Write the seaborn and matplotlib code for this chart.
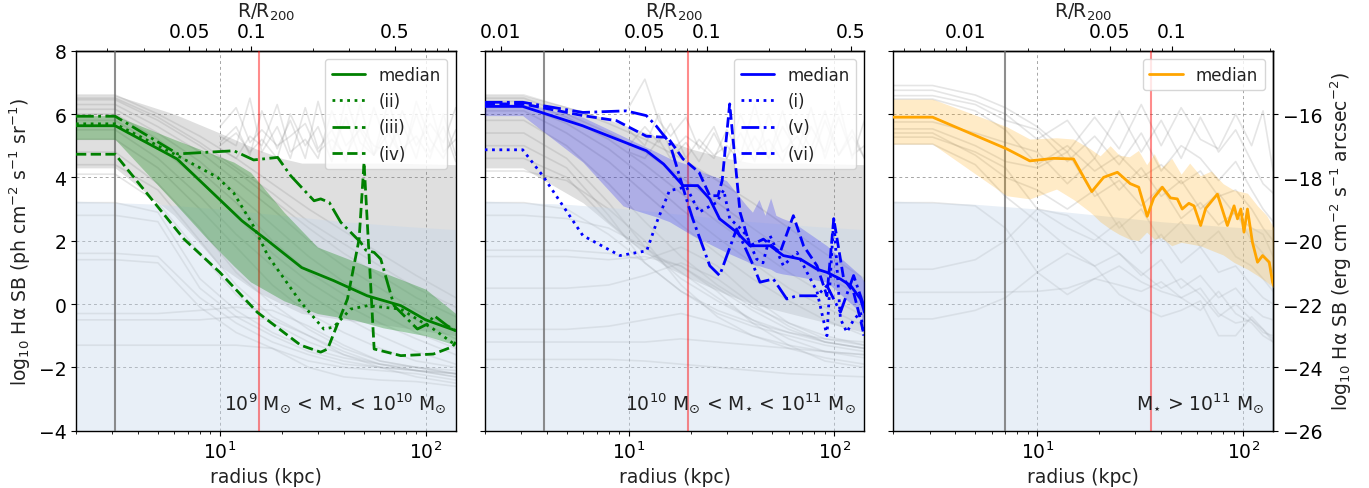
import matplotlib
matplotlib.use("Agg")
import matplotlib.pyplot as plt
import seaborn as sns
from matplotlib.ticker import FuncFormatter, NullFormatter, FixedLocator

# ---------------- data ----------------
# shared radius grids (kpc)
smooth_grid = [2, 3.1, 5, 8, 12, 18, 27, 40, 60, 90, 140]
noise_grid = [10, 12, 14, 16, 19, 22, 26, 30, 35, 41, 48, 56, 66, 77, 90, 105, 122, 140]
p3_grid = [2, 3.1, 5, 7, 10, 14, 19, 25, 32, 40, 50, 62, 76, 92, 110, 125, 140]

# observational sensitivity region (ph units)
sens_r = [2, 5, 10, 20, 40, 80, 140]
sens_top = [3.25, 3.15, 3.0, 2.8, 2.6, 2.45, 2.35]

# ---- panel 1 : 1e9 - 1e10 Msun ----
p1_R200 = 142
p1_vgrey = 3.1
p1_vred = 15.5
p1_grey_lines = [
    [6.6, 6.6, 6.0, 5.3, 4.6, 3.8, 3.0, 2.3, 1.6, 0.9, 0.2],
    [6.5, 6.5, 5.9, 5.1, 4.3, 3.5, 2.6, 1.9, 1.2, 0.5, -0.1],
    [6.45, 6.45, 5.8, 5.0, 4.2, 3.3, 2.4, 1.6, 0.9, 0.2, -0.4],
    [6.3, 6.3, 5.6, 4.8, 3.9, 3.0, 2.0, 1.2, 0.5, -0.2, -0.8],
    [6.15, 6.15, 5.4, 4.5, 3.5, 2.5, 1.5, 0.7, 0.1, -0.5, -1.1],
    [6.0, 6.0, 5.2, 4.2, 3.2, 2.0, 1.0, 0.3, -0.3, -0.9, -1.4],
    [5.8, 5.8, 5.0, 3.9, 2.8, 1.6, 0.7, 0.0, -0.6, -1.1, -1.6],
    [5.5, 5.5, 4.6, 3.4, 2.2, 1.2, 0.3, -0.4, -1.0, -1.5, -1.9],
    [5.2, 5.2, 4.3, 3.0, 1.8, 0.6, -0.3, -0.9, -1.4, -1.8, -2.0],
    [4.8, 4.8, 3.8, 2.4, 1.0, 0.0, -0.8, -1.4, -1.8, -2.0, -2.2],
    [4.4, 4.4, 3.6, 2.0, 0.6, -0.4, -1.0, -1.5, -1.9, -2.1, -2.3],
    [4.1, 4.1, 3.2, 1.6, 0.3, -0.6, -1.2, -1.6, -1.9, -2.1, -2.2],
    [3.2, 3.2, 2.9, 0.8, -0.2, -0.9, -1.4, -1.7, -1.9, -2.0, -2.1],
    [2.8, 2.8, 2.6, 0.5, -0.4, -1.0, -1.5, -1.8, -2.0, -2.1, -2.2],
    [1.6, 1.6, 1.5, 0.2, -0.6, -1.2, -1.6, -1.9, -2.0, -2.1, -2.3],
    [1.4, 1.4, 1.3, -0.1, -0.9, -1.4, -1.8, -2.0, -2.1, -2.2, -2.4],
    [-0.3, -0.3, -0.3, -0.2, -0.1, -0.2, -0.7, -1.3, -1.8, -2.0, -2.2],
    [-0.5, -0.5, -0.5, -0.5, -0.4, -0.5, -1.0, -1.6, -2.0, -2.3, -2.5],
    [-1.3, -1.3, -1.3, -1.3, -1.3, -1.4, -2.0, -2.3, -2.4, -2.45, -2.6],
]
p1_noise_lines = [
    [5.3, 5.0, 6.5, 4.8, 5.6, 4.6, 6.2, 4.9, 5.5, 4.5, 6.3, 4.7, 5.4, 4.6, 6.0, 4.8, 5.6, 4.5],
    [5.1, 5.6, 4.7, 6.1, 4.9, 5.8, 4.6, 6.4, 4.8, 5.9, 4.6, 6.2, 4.9, 5.7, 4.6, 6.3, 4.8, 5.2],
    [4.9, 4.6, 5.3, 5.0, 6.3, 4.8, 5.2, 4.6, 6.1, 5.0, 5.5, 4.7, 6.4, 4.9, 5.3, 4.6, 6.0, 4.7],
    [5.0, 5.4, 4.8, 5.2, 4.6, 6.0, 5.0, 5.6, 4.5, 6.5, 5.1, 4.7, 5.8, 4.5, 6.4, 5.2, 4.6, 5.5],
    [5.6, 6.2, 5.1, 5.5, 5.0, 5.3, 5.7, 4.8, 5.2, 4.7, 5.6, 5.0, 4.8, 6.1, 5.0, 5.7, 5.1, 6.2],
]
p1_fill_r = [2, 3.1, 6, 10, 15, 20, 25, 40, 70, 140]
p1_fill_hi = [6.6, 6.6, 6.0, 5.4, 4.9, 4.6, 4.45, 4.45, 4.45, 4.4]
p1_fill_lo = [4.3, 4.3, 2.8, 1.2, 0.4, 0.0, -0.3, -0.5, -0.7, -1.0]
p1_band_r = [2, 3.1, 6, 8.7, 11.7, 14.1, 20.5, 29.8, 45, 62, 100, 140]
p1_band_hi = [5.95, 5.95, 5.2, 4.8, 4.48, 4.16, 2.9, 1.8, 1.35, 1.0, 0.47, -0.3]
p1_band_lo = [5.2, 5.2, 3.2, 2.05, 1.2, 0.7, 0.1, -0.3, -0.5, -0.75, -1.0, -1.3]
p1_med_r = [2, 3.1, 6.2, 12.8, 15.5, 17.1, 25, 35.7, 52, 75.7, 100, 140]
p1_med_v = [5.63, 5.63, 4.58, 2.63, 2.21, 2.0, 1.15, 0.74, 0.26, -0.05, -0.5, -0.84]
p1_ii_r = [2, 3.1, 6.24, 9.75, 11.7, 14.6, 17.1, 24.7, 32, 35.7, 43.2, 52.2, 75.7, 109, 140]
p1_ii_v = [5.69, 5.69, 4.68, 4.0, 3.5, 2.45, 1.53, 0.06, -0.79, -0.73, -0.16, -0.05, -0.16, -0.79, -1.3]
p1_iii_r = [2, 3.1, 6.24, 11.7, 14.6, 19.1, 22.1, 28.7, 30.9, 34.0, 38.7, 48.3, 51.2, 56.2,
            60.5, 70.2, 91.2, 102, 110, 127, 140]
p1_iii_v = [5.93, 5.93, 4.74, 4.84, 4.55, 4.63, 4.05, 3.26, 3.32, 3.21, 2.58, 1.95, 1.7, 1.63,
            1.42, -0.05, -0.79, -0.63, -0.37, -0.68, -0.84]
p1_iv_r = [2, 3.1, 6.7, 10, 15.2, 24.7, 30.9, 33.4, 41.7, 47.5, 50.2, 56.2, 75.7, 109, 135, 140]
p1_iv_v = [4.73, 4.73, 2.05, 1.0, -0.26, -1.3, -1.52, -1.42, 0.16, 2.05, 4.47, -1.42, -1.63, -1.58, -1.35, -1.2]

# ---- panel 2 : 1e10 - 1e11 Msun ----
p2_R200 = 240
p2_vgrey = 3.87
p2_vred = 19.4
p2_grey_lines = [
    [6.6, 6.6, 6.2, 5.7, 5.2, 4.6, 3.9, 3.2, 2.4, 1.6, 0.8],
    [6.5, 6.5, 6.0, 5.4, 4.8, 4.0, 3.2, 2.4, 1.6, 0.9, 0.2],
    [6.4, 6.4, 5.9, 5.2, 4.4, 3.5, 2.6, 1.8, 1.0, 0.3, -0.4],
    [6.25, 6.25, 5.7, 4.9, 4.0, 3.0, 2.1, 1.3, 0.5, -0.1, -0.7],
    [6.1, 6.1, 5.4, 4.5, 3.5, 2.5, 1.6, 0.8, 0.1, -0.5, -1.0],
    [5.8, 5.8, 5.0, 3.8, 2.6, 1.5, 0.6, -0.1, -0.6, -1.0, -1.3],
    [5.4, 5.4, 4.6, 3.2, 1.8, 0.8, 0.1, -0.5, -0.9, -1.2, -1.4],
    [5.0, 5.0, 4.3, 2.8, 1.3, 0.4, -0.3, -0.7, -1.0, -1.3, -1.5],
    [4.6, 4.6, 4.0, 2.6, 1.6, 1.2, 0.5, -0.2, -0.8, -1.2, -1.4],
    [4.2, 4.2, 3.9, 3.0, 2.0, 0.6, -0.4, -1.0, -1.4, -1.7, -1.9],
    [3.2, 3.2, 3.0, 2.2, 1.3, 0.4, -0.2, -0.6, -0.9, -1.1, -1.2],
    [2.8, 2.8, 2.7, 2.4, 1.8, 1.0, 0.2, -0.5, -1.1, -1.5, -1.7],
    [1.7, 1.7, 1.7, 1.6, 1.4, 1.8, 1.2, 0.2, -0.6, -1.1, -1.3],
    [1.5, 1.5, 1.5, 1.4, 1.5, 1.2, 0.4, -0.6, -1.3, -1.8, -2.0],
    [0.5, 0.5, 0.5, 0.6, 0.9, 1.3, 0.8, 0.0, -0.7, -1.2, -1.4],
    [-0.8, -0.8, -0.8, -0.7, -0.5, -0.3, -0.6, -1.0, -1.3, -1.5, -1.6],
    [-1.2, -1.2, -1.2, -1.2, -1.2, -1.1, -1.2, -1.3, -1.4, -1.5, -1.6],
    [-1.75, -1.75, -1.75, -1.75, -1.8, -1.9, -2.0, -2.1, -2.2, -2.25, -2.3],
]
p2_noise_lines = [
    [6.2, 7.1, 5.8, 5.3, 5.9, 4.9, 5.6, 4.6, 5.4, 4.5, 6.0, 4.8, 5.3, 4.5, 5.8, 4.7, 5.5, 4.6],
    [5.5, 5.0, 6.0, 4.8, 5.3, 5.0, 4.6, 5.5, 4.7, 6.3, 4.6, 5.6, 4.8, 6.2, 4.6, 5.9, 4.7, 5.0],
    [5.0, 5.6, 5.1, 5.7, 4.6, 5.2, 4.7, 5.0, 4.5, 5.3, 4.6, 6.1, 4.5, 5.6, 4.8, 6.4, 4.6, 5.8],
    [4.8, 4.6, 5.2, 4.6, 5.1, 4.5, 5.4, 4.6, 6.0, 4.8, 5.2, 4.5, 5.7, 4.9, 6.1, 4.7, 5.3, 4.6],
]
p2_fill_r = [2, 3.06, 6, 10, 15, 20, 30, 40, 70, 140]
p2_fill_hi = [6.6, 6.6, 6.1, 5.6, 5.2, 4.9, 4.6, 4.45, 4.45, 4.4]
p2_fill_lo = [4.3, 4.3, 3.2, 2.0, 1.2, 0.8, 0.3, 0.0, -0.4, -0.9]
p2_band_r = [2, 3.06, 6, 9.4, 10.9, 13.7, 15.8, 20.5, 23, 29.9, 37.5, 40, 43, 46, 49, 52, 56, 63, 92, 134, 140]
p2_band_hi = [6.32, 6.32, 5.9, 5.3, 5.1, 4.8, 4.6, 4.35, 4.15, 3.9, 3.1, 2.9, 3.3, 2.8, 3.35, 2.8,
              2.7, 2.58, 1.84, 0.9, 0.7]
p2_band_lo = [5.95, 5.95, 4.48, 3.1, 2.95, 2.75, 2.6, 2.16, 2.0, 1.63, 1.35, 1.25, 1.21, 1.15, 1.1,
              1.0, 0.95, 0.9, 0.69, -0.26, -1.0]
p2_med_r = [2, 3.06, 5.98, 12.2, 14.8, 18.4, 21.7, 24.8, 27.7, 33.5, 38.9, 48.7, 56.5, 68.3, 82.3,
            92, 107, 120, 134, 140]
p2_med_v = [6.24, 6.24, 5.63, 4.84, 4.42, 3.74, 3.74, 3.32, 2.69, 2.27, 1.84, 1.84, 1.53, 1.42,
            1.1, 1.0, 0.79, 0.58, 0.16, -0.26]
p2_i_r = [2, 3.06, 3.83, 6.0, 9.08, 12.25, 13.7, 15.8, 19.1, 22, 26.7, 29, 31, 34.8, 37.5, 41.9,
          45, 48.7, 56.5, 65.8, 73.6, 82.3, 92, 99.3, 107, 115, 124, 134, 139]
p2_i_v = [4.87, 4.87, 4.05, 2.16, 1.53, 1.68, 2.58, 3.58, 3.7, 2.9, 3.2, 3.6, 2.7, 2.4, 2.16, 1.42,
          1.3, 2.16, 1.21, 1.63, 1.0, 0.4, -1.0, 2.69, -0.47, -0.89, -0.5, -0.26, -1.0]
p2_v_r = [2, 3.06, 6.0, 9.7, 12.2, 13.6, 15.8, 19.1, 20.5, 24.8, 27.7, 33.5, 40.4, 43.5, 50.5,
          58.7, 65.8, 73.6, 82.3, 92, 107, 124, 139]
p2_v_v = [6.37, 6.37, 6.05, 6.1, 5.95, 5.63, 5.1, 3.32, 2.69, 1.21, 0.9, 2.37, 1.21, 0.69, 0.79,
          0.16, 0.26, 0.26, 0.26, 0.58, -0.26, 0.9, -0.05]
p2_vi_r = [2, 3.06, 6.0, 8.74, 12.2, 15.5, 18.4, 22, 24.8, 27.2, 28.5, 31, 34.8, 38.9, 45.2, 54.5,
           63.2, 70.8, 82.3, 92, 99.3, 111, 124, 134, 139, 140]
p2_vi_v = [6.32, 6.32, 5.95, 5.79, 5.3, 5.26, 4.58, 4.16, 3.42, 3.42, 3.9, 6.32, 2.9, 1.84, 2.05,
           1.63, 2.79, 1.84, 1.21, 0.26, 2.69, 0.79, 0.37, -0.5, -0.95, -0.95]

# ---- panel 3 : > 1e11 Msun ----
p3_R200 = 450
p3_vgrey = 7.0
p3_vred = 35.7
p3_grey_lines = [
    [6.9, 6.9, 6.6, 6.2, 5.6, 4.8, 5.9, 4.9, 6.3, 5.0, 6.2, 5.2, 4.9, 6.0, 5.0, 6.1, 4.2],
    [6.75, 6.75, 6.4, 6.0, 5.2, 5.8, 4.6, 6.1, 4.8, 5.8, 4.6, 5.9, 4.8, 5.5, 4.5, 3.8, 3.5],
    [6.58, 6.58, 6.3, 5.8, 5.5, 4.5, 5.3, 4.4, 5.4, 4.2, 5.0, 4.6, 3.9, 4.5, 3.6, 3.0, 2.6],
    [6.47, 6.47, 6.1, 5.5, 4.4, 5.0, 4.2, 4.7, 4.0, 4.4, 3.8, 4.2, 3.4, 3.6, 3.0, 2.4, 2.0],
    [5.75, 5.75, 5.4, 5.1, 4.8, 3.8, 4.6, 3.6, 4.3, 3.4, 3.9, 3.0, 3.5, 2.8, 2.4, 2.2, 1.5],
    [5.53, 5.53, 5.0, 4.5, 4.3, 4.8, 3.4, 3.9, 3.1, 3.7, 2.7, 3.2, 2.5, 2.9, 2.0, 1.6, 1.0],
    [5.4, 5.4, 4.7, 4.0, 3.6, 3.0, 3.6, 2.4, 3.0, 2.0, 2.6, 1.8, 2.3, 1.5, 1.2, 0.8, 0.4],
    [5.27, 5.27, 4.8, 4.3, 3.0, 2.4, 2.0, 2.6, 1.6, 2.2, 1.3, 1.8, 1.0, 1.2, 0.6, 0.2, 0.0],
    [5.05, 5.05, 4.4, 3.4, 2.6, 1.8, 1.2, 1.6, 0.9, 1.4, 0.5, 0.9, 0.2, 0.5, -0.1, -0.4, -0.5],
    [3.2, 3.2, 3.1, 2.4, 1.0, 0.3, 0.8, 1.2, 0.7, 0.4, 0.2, -0.2, 0.4, -0.3, -0.6, -1.0, -1.2],
    [1.1, 1.1, 1.4, 2.0, 3.0, 2.8, 2.2, 1.6, 1.0, 0.5, 0.8, 0.3, -0.4, 0.0, -0.5, -0.8, -1.1],
    [0.37, 0.37, 0.37, 0.38, 0.4, 0.5, 0.8, 0.6, 0.4, 0.7, 0.2, 0.5, -0.3, -0.6, -0.5, -0.9, -1.0],
    [-0.47, -0.47, -0.2, 0.2, 1.0, 1.6, 1.2, 0.3, -0.1, -0.4, -0.2, 0.1, -1.0, -1.0, -0.4, -0.8, -1.2],
]
p3_band_r = [2, 3.1, 7.1, 9.2, 12.4, 15, 18.1, 20.2, 22.6, 25, 28, 31, 34, 37, 40, 45, 50, 55,
             62, 70, 80, 90, 105, 117.5, 130, 141]
p3_band_hi = [6.47, 6.47, 5.6, 5.21, 5.25, 5.21, 4.9, 4.68, 5.0, 4.7, 4.65, 4.85, 4.4, 4.75, 4.3,
              4.6, 4.1, 4.45, 4.05, 4.2, 3.8, 3.6, 3.5, 3.1, 2.8, 2.4]
p3_band_lo = [5.05, 5.05, 3.42, 3.32, 3.63, 3.3, 2.9, 2.6, 2.37, 2.2, 2.05, 2.0, 2.27, 2.05, 2.1,
              1.84, 1.95, 1.9, 1.84, 1.7, 1.55, 1.32, 1.1, 0.9, 0.7, 0.5]
p3_med_r = [2, 3.1, 7.1, 9.2, 12.0, 15.0, 18.4, 21.0, 24.5, 28.3, 31.1, 34.2, 36.8, 40.5, 44.4,
            47.9, 50.6, 54.5, 57.7, 62.2, 65.8, 75.0, 83.9, 90.4, 93.9, 97.5, 101, 105, 111,
            117.5, 124.4, 134, 139, 141]
p3_med_v = [5.9, 5.9, 4.9, 4.52, 4.6, 4.58, 3.55, 4.0, 4.16, 3.8, 3.69, 2.77, 3.35, 3.69, 3.35,
            3.32, 3.0, 3.18, 3.1, 2.48, 3.02, 3.47, 2.48, 3.1, 2.69, 3.0, 2.27, 3.0, 1.95, 1.32,
            1.53, 1.32, 0.69, 0.58]

top_ticks = [0.01, 0.05, 0.1, 0.5]
y_ticks = [-4, -2, 0, 2, 4, 6, 8]
erg_ticks = [-26, -24, -22, -20, -18, -16]
erg_offset = 22

# ---------------- style ----------------
sns.set_style("ticks")
plt.rcParams.update({
    "font.family": ["DejaVu Sans"],
    "font.size": 13.5,
    "axes.labelsize": 13.5,
    "xtick.labelsize": 13.5,
    "ytick.labelsize": 13.5,
    "legend.fontsize": 12,
    "axes.edgecolor": "black",
    "axes.linewidth": 1.0,
    "xtick.color": "black",
    "ytick.color": "black",
    "text.color": "#222222",
    "axes.labelcolor": "#222222",
    "mathtext.default": "regular",
})

fig, axes = plt.subplots(1, 3, figsize=(13.69, 4.89), dpi=100, sharey=True)
fig.subplots_adjust(left=0.0555, right=0.930, bottom=0.1172, top=0.8943, wspace=0.0763)

GREY = "grey"


def base_panel(ax, grey_grid, grey_lines, noise_lines, fill, R200, vgrey, vred):
    for line in grey_lines:
        ax.plot(grey_grid, line, color=GREY, alpha=0.2, lw=1.2, zorder=1)
    for line in noise_lines:
        ax.plot(noise_grid, line, color=GREY, alpha=0.2, lw=1.2, zorder=1)
    if fill is not None:
        fr, flo, fhi = fill
        ax.fill_between(fr, flo, fhi, color=GREY, alpha=0.25, lw=0, zorder=1)
    ax.fill_between(sens_r, [-4] * len(sens_r), sens_top, color="#c4d6ea",
                    alpha=0.38, lw=0, zorder=2)
    ax.axvline(vgrey, color="dimgrey", alpha=0.75, lw=1.5, zorder=3)
    ax.axvline(vred, color="red", alpha=0.45, lw=1.5, zorder=3)
    ax.set_xscale("log")
    ax.set_xlim(2, 140)
    ax.set_ylim(-4, 8)
    ax.set_yticks(y_ticks)
    ax.grid(True, which="major", color="grey", ls=(0, (3, 3)), lw=0.7, alpha=0.7)
    ax.set_xlabel("radius (kpc)")
    sec = ax.secondary_xaxis("top", functions=(lambda r, R=R200: r / R, lambda q, R=R200: q * R))
    sec.xaxis.set_major_locator(FixedLocator(top_ticks))
    sec.xaxis.set_major_formatter(FuncFormatter(lambda v, p: f"{v:g}"))
    sec.xaxis.set_minor_formatter(NullFormatter())
    sec.set_xlabel("R/R$_{200}$")
    return sec


ax1, ax2, ax3 = axes

# panel 1
base_panel(ax1, smooth_grid, p1_grey_lines, p1_noise_lines,
           (p1_fill_r, p1_fill_lo, p1_fill_hi), p1_R200, p1_vgrey, p1_vred)
ax1.fill_between(p1_band_r, p1_band_lo, p1_band_hi, color="green", alpha=0.3, lw=0, zorder=4)
sns.lineplot(x=p1_med_r, y=p1_med_v, ax=ax1, color="green", lw=2, label="median",
             estimator=None, sort=False, zorder=6)
sns.lineplot(x=p1_ii_r, y=p1_ii_v, ax=ax1, color="green", lw=2, linestyle=":", label="(ii)",
             estimator=None, sort=False, zorder=6)
sns.lineplot(x=p1_iii_r, y=p1_iii_v, ax=ax1, color="green", lw=2, linestyle="-.", label="(iii)",
             estimator=None, sort=False, zorder=6)
sns.lineplot(x=p1_iv_r, y=p1_iv_v, ax=ax1, color="green", lw=2, linestyle="--", label="(iv)",
             estimator=None, sort=False, zorder=6)
ax1.legend(loc="upper right")
ax1.text(0.977, 0.04, r"$10^{9}$ M$_{\odot}$ < M$_{\star}$ < $10^{10}$ M$_{\odot}$",
         transform=ax1.transAxes, ha="right", va="bottom", fontsize=13.5, zorder=8)
ax1.set_ylabel(r"log$_{10}$ H$\alpha$ SB (ph cm$^{-2}$ s$^{-1}$ sr$^{-1}$)")

# panel 2
base_panel(ax2, smooth_grid, p2_grey_lines, p2_noise_lines,
           (p2_fill_r, p2_fill_lo, p2_fill_hi), p2_R200, p2_vgrey, p2_vred)
ax2.fill_between(p2_band_r, p2_band_lo, p2_band_hi, color="blue", alpha=0.22, lw=0, zorder=4)
sns.lineplot(x=p2_med_r, y=p2_med_v, ax=ax2, color="blue", lw=2, label="median",
             estimator=None, sort=False, zorder=6)
sns.lineplot(x=p2_i_r, y=p2_i_v, ax=ax2, color="blue", lw=2, linestyle=":", label="(i)",
             estimator=None, sort=False, zorder=6)
sns.lineplot(x=p2_v_r, y=p2_v_v, ax=ax2, color="blue", lw=2, linestyle="-.", label="(v)",
             estimator=None, sort=False, zorder=6)
sns.lineplot(x=p2_vi_r, y=p2_vi_v, ax=ax2, color="blue", lw=2, linestyle="--", label="(vi)",
             estimator=None, sort=False, zorder=6)
ax2.legend(loc="upper right")
ax2.text(0.977, 0.04, r"$10^{10}$ M$_{\odot}$ < M$_{\star}$ < $10^{11}$ M$_{\odot}$",
         transform=ax2.transAxes, ha="right", va="bottom", fontsize=13.5, zorder=8)

# panel 3
base_panel(ax3, p3_grid, p3_grey_lines, [], None, p3_R200, p3_vgrey, p3_vred)
ax3.fill_between(p3_band_r, p3_band_lo, p3_band_hi, color="orange", alpha=0.22, lw=0, zorder=4)
sns.lineplot(x=p3_med_r, y=p3_med_v, ax=ax3, color="orange", lw=2, label="median",
             estimator=None, sort=False, zorder=6)
ax3.legend(loc="upper right")
ax3.text(0.977, 0.04, r"M$_{\star}$ > $10^{11}$ M$_{\odot}$",
         transform=ax3.transAxes, ha="right", va="bottom", fontsize=13.5, zorder=8)
rsec = ax3.secondary_yaxis("right", functions=(lambda y: y - erg_offset, lambda y: y + erg_offset))
rsec.set_yticks(erg_ticks)
rsec.set_ylabel(r"log$_{10}$ H$\alpha$ SB (erg cm$^{-2}$ s$^{-1}$ arcsec$^{-2}$)")

for ax in axes:
    ax.tick_params(which="both", direction="out")

fig.savefig("out.png", dpi=100)
